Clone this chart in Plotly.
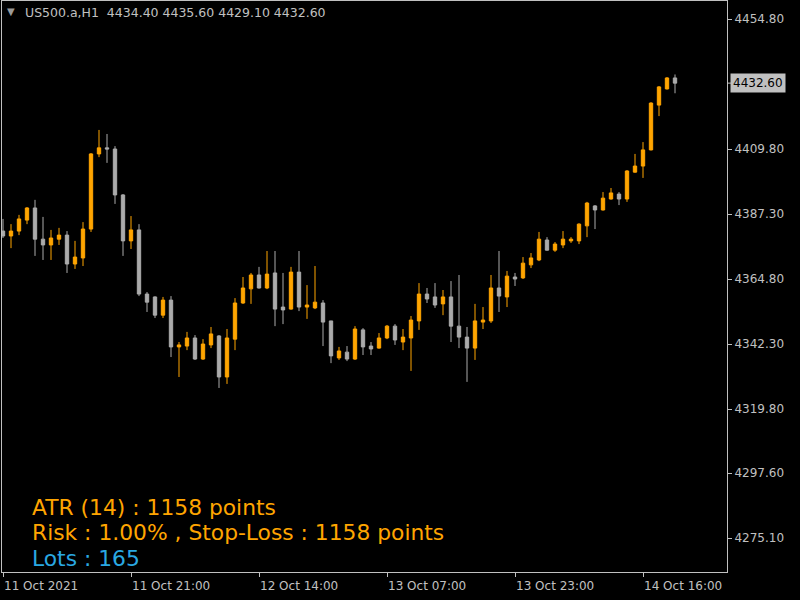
import plotly.graph_objects as go

# ---- data ----
opens = [4381.4, 4379.7, 4381.4, 4385.2, 4389.4, 4378.6, 4376.6, 4378.6, 4380.0, 4370.0,
         4372.1, 4382.1, 4408.1, 4410.2, 4409.8, 4393.9, 4378.0, 4381.8, 4359.6, 4358.6,
         4352.3, 4357.5, 4341.3, 4341.6, 4344.4, 4337.1, 4342.0, 4345.1, 4330.9, 4344.0,
         4356.5, 4361.4, 4366.2, 4361.7, 4366.9, 4355.1, 4354.4, 4367.2, 4355.1, 4354.8,
         4356.5, 4350.3, 4337.5, 4339.5, 4337.1, 4347.2, 4341.6, 4340.9, 4344.4, 4348.5,
         4343.0, 4344.4, 4350.3, 4359.6, 4358.6, 4356.2, 4358.6, 4348.5, 4344.7, 4340.9,
         4349.9, 4350.3, 4361.7, 4358.6, 4365.5, 4365.2, 4369.7, 4371.4, 4378.3, 4374.8,
         4376.6, 4378.0, 4378.0, 4383.2, 4390.1, 4388.7, 4392.5, 4394.2, 4392.5, 4401.8,
         4403.9, 4409.5, 4425.0, 4430.6, 4434.4]
highs = [4385.6, 4383.8, 4387.0, 4389.7, 4392.2, 4386.3, 4381.8, 4382.5, 4381.4, 4378.0,
         4384.5, 4408.4, 4416.4, 4415.0, 4410.8, 4394.2, 4386.6, 4383.8, 4360.3, 4358.8,
         4358.6, 4358.9, 4343.0, 4346.5, 4345.4, 4344.0, 4348.2, 4345.4, 4347.5, 4358.2,
         4365.5, 4366.9, 4369.0, 4374.5, 4374.5, 4366.9, 4369.0, 4374.5, 4362.7, 4369.3,
         4357.5, 4350.3, 4341.3, 4341.6, 4348.5, 4347.8, 4343.0, 4346.1, 4348.9, 4349.2,
         4347.5, 4352.0, 4363.4, 4361.7, 4363.4, 4361.0, 4364.1, 4366.2, 4348.2, 4356.2,
         4355.1, 4366.2, 4374.5, 4367.6, 4366.9, 4372.4, 4373.8, 4381.1, 4379.3, 4377.6,
         4381.4, 4379.3, 4384.1, 4391.5, 4390.4, 4394.9, 4396.3, 4394.9, 4402.5, 4408.1,
         4412.2, 4426.0, 4431.6, 4434.7, 4435.6]
lows = [4379.0, 4375.5, 4380.0, 4383.8, 4372.8, 4371.4, 4371.4, 4376.6, 4366.9, 4368.3,
        4369.3, 4381.1, 4407.0, 4405.0, 4390.8, 4372.8, 4375.2, 4358.9, 4353.4, 4351.3,
        4351.3, 4337.8, 4330.9, 4340.2, 4336.8, 4336.8, 4340.9, 4327.1, 4328.5, 4340.2,
        4356.2, 4356.2, 4361.5, 4361.3, 4348.5, 4349.2, 4354.2, 4353.7, 4351.0, 4354.4,
        4341.6, 4335.7, 4336.8, 4336.4, 4336.8, 4338.5, 4338.5, 4340.7, 4344.0, 4342.0,
        4340.2, 4333.0, 4347.2, 4356.5, 4354.8, 4352.3, 4343.0, 4340.9, 4329.2, 4336.8,
        4347.5, 4349.6, 4353.4, 4355.1, 4362.4, 4364.8, 4368.6, 4371.0, 4374.6, 4374.2,
        4375.5, 4377.3, 4376.9, 4379.3, 4382.1, 4388.5, 4392.3, 4390.4, 4391.5, 4401.6,
        4399.8, 4409.3, 4421.2, 4430.4, 4429.1]
closes = [4379.7, 4381.4, 4385.6, 4389.4, 4378.6, 4376.6, 4379.0, 4380.0, 4370.0, 4372.4,
          4382.1, 4408.1, 4410.2, 4409.8, 4393.9, 4378.0, 4381.8, 4359.6, 4356.8, 4352.3,
          4357.5, 4341.3, 4342.0, 4344.4, 4337.1, 4342.3, 4345.8, 4330.9, 4344.4, 4356.5,
          4361.7, 4366.2, 4361.7, 4366.5, 4354.4, 4354.1, 4367.2, 4355.1, 4355.8, 4356.8,
          4349.9, 4338.2, 4339.9, 4337.1, 4347.5, 4341.3, 4340.6, 4344.4, 4348.5, 4343.7,
          4344.7, 4350.6, 4359.6, 4357.9, 4355.8, 4358.6, 4348.5, 4344.7, 4340.9, 4350.3,
          4350.6, 4361.7, 4358.9, 4365.8, 4364.8, 4370.3, 4372.1, 4378.6, 4374.8, 4376.9,
          4378.6, 4378.6, 4383.8, 4391.1, 4388.7, 4392.8, 4394.6, 4392.5, 4402.2, 4403.9,
          4409.5, 4425.7, 4431.3, 4434.4, 4432.6]
bar_index = list(range(len(opens)))

price_ticks = [4454.80, 4409.80, 4387.30, 4364.80, 4342.30, 4319.80, 4297.60, 4275.10]
time_tick_index = [0, 16, 32, 48, 64, 80]
time_tick_labels = ["11 Oct 2021", "11 Oct 21:00", "12 Oct 14:00",
                    "13 Oct 07:00", "13 Oct 23:00", "14 Oct 16:00"]

symbol_label = "US500.a,H1  4434.40 4435.60 4429.10 4432.60"
current_price = 4432.60
info_lines = ["ATR (14) : 1158 points", "Risk : 1.00% , Stop-Loss : 1158 points"]
lots_line = "Lots : 165"

# ---- styling ----
ORANGE = "#FFA500"
GREY = "#ABABAB"
AXIS = "#C0C0C0"
BLUE = "#2AA8E2"
FONT = "DejaVu Sans"

# plot area in pixels: x 2..727, y 1..572
L, R, T, B = 2, 727, 1, 572
def px_x(p):
    return (p - L) / (R - L)
def px_y(p):
    return (B - p) / (B - T)

fig = go.Figure(go.Candlestick(
    x=bar_index, open=opens, high=highs, low=lows, close=closes,
    increasing=dict(line=dict(color=ORANGE, width=1), fillcolor=ORANGE),
    decreasing=dict(line=dict(color=GREY, width=1), fillcolor=GREY),
    whiskerwidth=0, hoverinfo="skip", showlegend=False,
))

annotations = []
for idx, lab in zip(time_tick_index, time_tick_labels):
    annotations.append(dict(x=idx, xref="x", y=px_y(586), yref="paper", text=lab,
                            showarrow=False, xanchor="left", yanchor="middle", xshift=-1,
                            font=dict(family=FONT, size=12, color=AXIS)))
annotations.append(dict(x=px_x(23), xref="paper", y=px_y(13), yref="paper", text=symbol_label,
                        showarrow=False, xanchor="left", yanchor="middle",
                        font=dict(family=FONT, size=12.5, color=AXIS)))
annotations.append(dict(x=px_x(5), xref="paper", y=px_y(12), yref="paper", text="▼",
                        showarrow=False, xanchor="left", yanchor="middle",
                        font=dict(family=FONT, size=10, color="#9A9A9A")))
annotations.append(dict(x=px_x(730), xref="paper", y=current_price, yref="y",
                        text=f"{current_price:.2f}", showarrow=False, xanchor="left",
                        yanchor="middle", bgcolor=AXIS, borderpad=2,
                        font=dict(family=FONT, size=12, color="#000000")))
INFO_SIZE = 21.8
INFO_FONT = "DejaVu Sans"
LINE_STEP = 25.5
for i, line in enumerate(info_lines):
    annotations.append(dict(x=px_x(31), xref="paper", y=px_y(507 + LINE_STEP * i), yref="paper",
                            text=line, showarrow=False, xanchor="left", yanchor="middle",
                            borderpad=0,
                            font=dict(family=INFO_FONT, size=INFO_SIZE, color=ORANGE)))
annotations.append(dict(x=px_x(31), xref="paper", y=px_y(507 + 2 * LINE_STEP), yref="paper",
                        text=lots_line, showarrow=False, xanchor="left", yanchor="middle",
                        borderpad=0,
                        font=dict(family=INFO_FONT, size=INFO_SIZE, color=BLUE)))

fig.update_layout(
    width=800, height=600,
    margin=dict(l=L, r=800 - R, t=T, b=600 - B, pad=0),
    paper_bgcolor="#000000", plot_bgcolor="#000000",
    boxgap=0.4,
    annotations=annotations,
    shapes=[dict(type="line", xref="paper", yref="y", x0=1.0, x1=px_x(731),
                 y0=current_price, y1=current_price, line=dict(color=AXIS, width=1))],
    xaxis=dict(range=[-0.125, 90.5], rangeslider=dict(visible=False), showgrid=False,
               zeroline=False, showline=True, mirror=True, linecolor=AXIS, linewidth=1,
               tickvals=time_tick_index, showticklabels=False, ticks="outside",
               ticklen=4, tickcolor=AXIS, fixedrange=True),
    yaxis=dict(range=[4263.4, 4461.03], side="right", showgrid=False, zeroline=False,
               showline=True, mirror=True, linecolor=AXIS, linewidth=1,
               tickvals=price_ticks, ticktext=[f"{v:.2f}" for v in price_ticks],
               ticks="outside", ticklen=4, tickcolor=AXIS,
               tickfont=dict(family=FONT, size=12, color=AXIS), fixedrange=True),
)

fig.write_html("out.html", config={"displayModeBar": False},
               post_script="document.body.style.margin='0';document.body.style.background='#000';")
